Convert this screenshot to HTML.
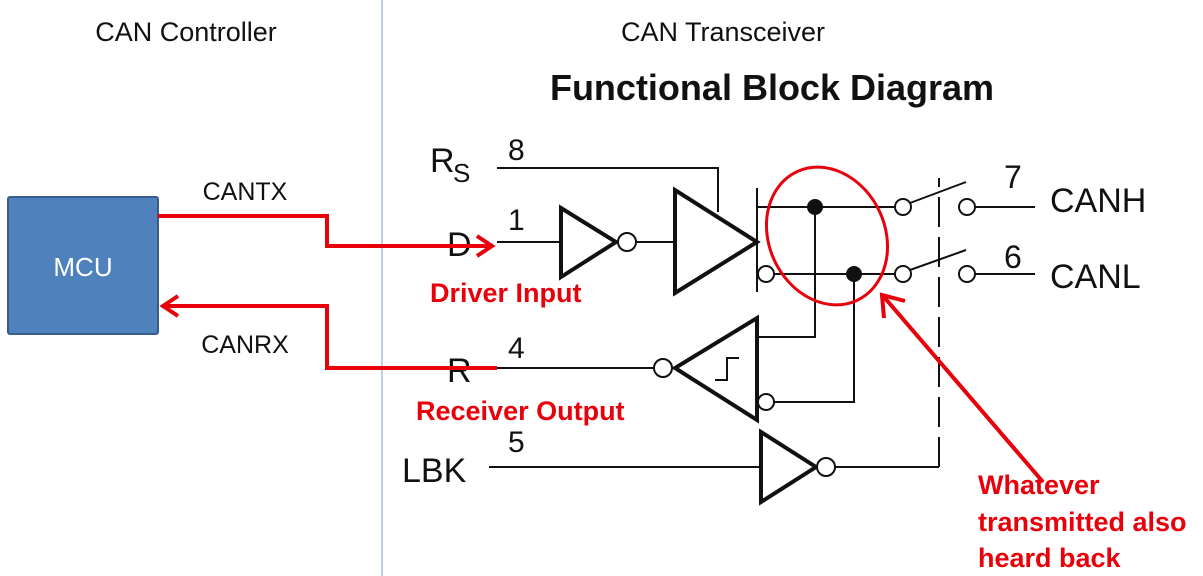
<!DOCTYPE html>
<html><head><meta charset="utf-8"><style>
html,body{margin:0;padding:0;background:#fff;}
svg{display:block;}
</style></head><body>
<svg width="1203" height="576" viewBox="0 0 1203 576" xmlns="http://www.w3.org/2000/svg" font-family="Liberation Sans, DejaVu Sans, sans-serif">
<line x1="382" y1="0" x2="382" y2="576" stroke="#7f9cc4" stroke-width="1"/>
<text x="186" y="41" font-size="27" text-anchor="middle" fill="#111">CAN Controller</text>
<text x="723" y="41" font-size="27" text-anchor="middle" fill="#111">CAN Transceiver</text>
<text x="772" y="100" font-size="36" font-weight="bold" text-anchor="middle" fill="#111">Functional Block Diagram</text>

<rect x="8" y="197" width="150" height="137" fill="#4f81bd" stroke="#385d8a" stroke-width="2" rx="2"/>
<text x="83" y="276" font-size="26" text-anchor="middle" fill="#fff">MCU</text>
<text x="245" y="200" font-size="25" text-anchor="middle" fill="#111">CANTX</text>
<text x="245" y="353" font-size="25" text-anchor="middle" fill="#111">CANRX</text>

<g stroke="#111" stroke-width="2" fill="none">
<polyline points="497,168 718,168 718,212"/>
<line x1="497" y1="242" x2="561" y2="242"/>
<line x1="636" y1="242" x2="675" y2="242"/>
<line x1="757" y1="207" x2="895" y2="207"/>
<line x1="774" y1="274" x2="895" y2="274"/>
<line x1="757" y1="188" x2="757" y2="292"/>
<polyline points="815,207 815,337 757,337"/>
<polyline points="854,274 854,402 774,402"/>
<line x1="497" y1="368" x2="654" y2="368"/>
<line x1="489" y1="467" x2="761" y2="467"/>
<polyline points="834,467 939,467"/>
<line x1="939" y1="467" x2="939" y2="178" stroke-dasharray="30,10"/>
<line x1="910" y1="203" x2="966" y2="182"/>
<line x1="910" y1="270" x2="966" y2="250"/>
<line x1="975" y1="207" x2="1035" y2="207"/>
<line x1="975" y1="274" x2="1035" y2="274"/>
<polyline points="715,380 727,380 727,358 739,358"/>
</g>
<g stroke="#111" stroke-width="4" fill="none" stroke-linejoin="miter">
<polygon points="561,208 561,277 616,242"/>
<polygon points="675,190 675,293 757,242"/>
<polygon points="757,318 757,420 675,368"/>
<polygon points="761,432 761,502 816,467"/>
</g>
<g stroke="#111" stroke-width="2" fill="#fff">
<circle cx="627" cy="242" r="9"/>
<circle cx="663" cy="368" r="9"/>
<circle cx="826" cy="467" r="9"/>
<circle cx="766" cy="274" r="8"/>
<circle cx="766" cy="402" r="8"/>
<circle cx="903" cy="207" r="8"/>
<circle cx="903" cy="274" r="8"/>
<circle cx="967" cy="207" r="8"/>
<circle cx="967" cy="274" r="8"/>
</g>
<circle cx="815" cy="207" r="8" fill="#111"/>
<circle cx="854" cy="274" r="8" fill="#111"/>

<g font-size="34" fill="#111">
<text x="430" y="172">R</text><text x="453" y="182" font-size="26">S</text>
<text x="508" y="160" font-size="30">8</text>
<text x="508" y="230" font-size="30">1</text>
<text x="447" y="256">D</text>
<text x="508" y="358" font-size="30">4</text>
<text x="447" y="382">R</text>
<text x="508" y="452" font-size="30">5</text>
<text x="402" y="482">LBK</text>
<text x="1004" y="188" font-size="32">7</text>
<text x="1004" y="268" font-size="32">6</text>
<text x="1050" y="212">CANH</text>
<text x="1050" y="288">CANL</text>
</g>

<g stroke="#e8000b" stroke-width="4" fill="none">
<polyline points="158,216 327,216 327,246 492,246"/>
<polyline points="477,236 492,246 477,256"/>
<polyline points="497,368 327,368 327,306 163,306"/>
<polyline points="178,296 163,306 178,316"/>
<ellipse cx="827" cy="236" rx="58" ry="71" transform="rotate(-25 827 236)" stroke-width="3"/>
<line x1="1043" y1="482" x2="884" y2="297"/>
<polyline points="884,318 882,295 905,301"/>
</g>
<g fill="#e8000b" font-weight="bold" font-size="27">
<text x="430" y="302" font-size="27">Driver Input</text>
<text x="416" y="420">Receiver Output</text>
<text x="978" y="494">Whatever</text>
<text x="978" y="531">transmitted also</text>
<text x="978" y="567">heard back</text>
</g>
</svg>
</body></html>
